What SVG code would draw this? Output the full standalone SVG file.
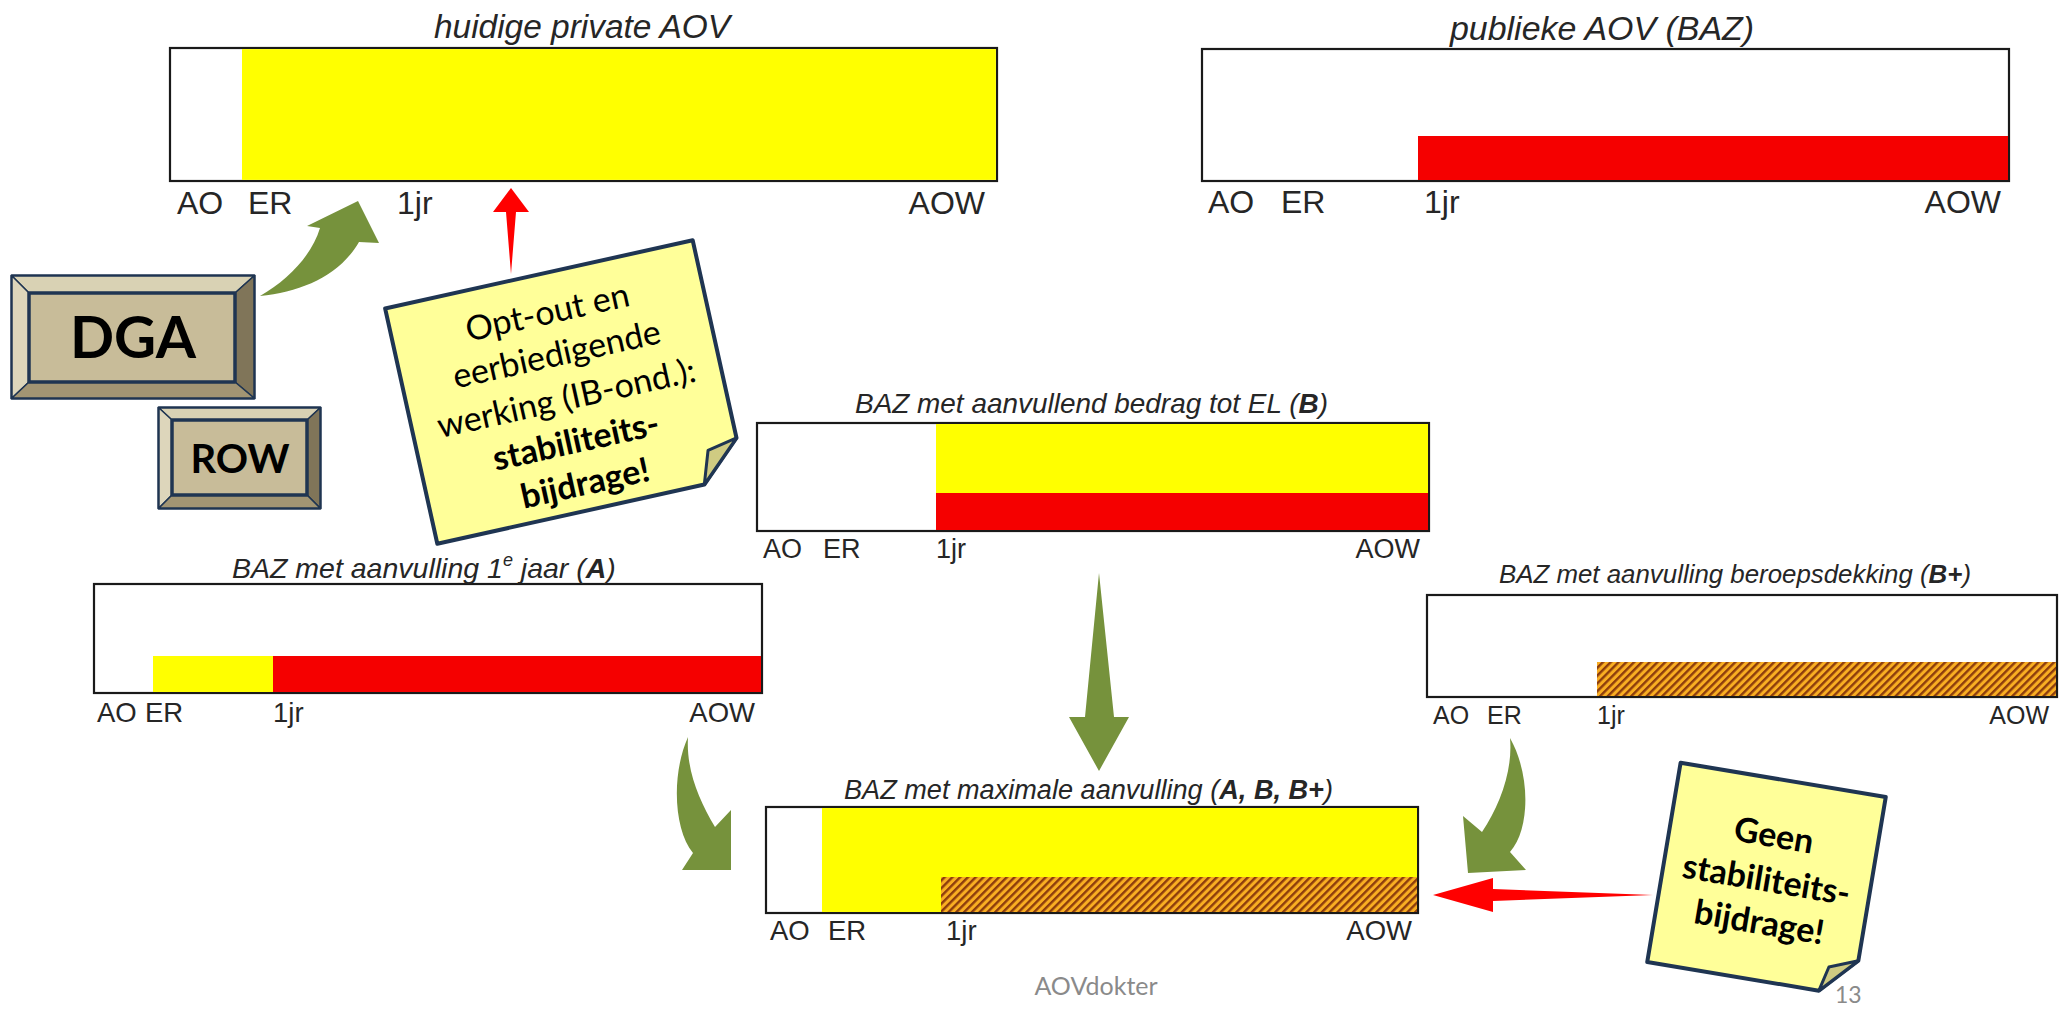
<svg xmlns="http://www.w3.org/2000/svg" width="2063" height="1009" viewBox="0 0 2063 1009">
<style>
.frame{fill:#fff;stroke:#1a1a1a;stroke-width:2.2}
.yel{fill:#ffff00}
.red{fill:#f50000}
.hatch{fill:url(#hatch)}
.ttl{font-family:"Liberation Sans",Arial,sans-serif;font-style:italic;fill:#262626}
.lbl{font-family:"Liberation Sans",Arial,sans-serif;fill:#262626}
.green{fill:#76923c}
.redarrow{fill:#ff0000}
.note{fill:#ffff99;stroke:#1f3552;stroke-width:4;stroke-linejoin:round}
.fold{fill:#cfcb82;stroke:#1f3552;stroke-width:3;stroke-linejoin:round}
.nt{font-family:Lato,"Open Sans",sans-serif;font-size:34px;fill:#000;text-anchor:middle}
.btn{stroke:#1f3552;stroke-width:3.5;stroke-linejoin:round}
.bev{stroke:#1f3552;stroke-width:1.5}
.btxt{font-family:Lato,"Open Sans",sans-serif;font-weight:bold;fill:#000;text-anchor:middle}
.foot{font-family:Lato,"Open Sans",sans-serif;fill:#8a8a8a}
</style>
<defs>
<pattern id="hatch" patternUnits="userSpaceOnUse" width="5.5" height="5.5" patternTransform="rotate(45)">
<rect width="5.5" height="5.5" fill="#f9ae22"/>
<rect x="0" y="0" width="2.4" height="5.5" fill="#8c3c0c"/>
</pattern>
</defs>

<g id="panel-huidige">
<rect class="frame" x="170" y="48" width="827" height="133"/>
<rect class="yel" x="242" y="49.1" width="753.9" height="130.8"/>
<text class="ttl" x="434" y="38" font-size="33" textLength="296" lengthAdjust="spacingAndGlyphs">huidige private AOV</text>
<text class="lbl" font-size="32" y="214"><tspan x="177">AO</tspan><tspan x="248">ER</tspan><tspan x="397">1jr</tspan></text>
<text class="lbl" font-size="32" x="985" y="214" text-anchor="end">AOW</text>
</g>

<g id="panel-publiek">
<rect class="frame" x="1202" y="49" width="807" height="132"/>
<rect class="red" x="1418" y="136" width="590" height="44"/>
<text class="ttl" x="1450" y="40" font-size="33" textLength="304" lengthAdjust="spacingAndGlyphs">publieke AOV (BAZ)</text>
<text class="lbl" font-size="32" y="213"><tspan x="1208">AO</tspan><tspan x="1281">ER</tspan><tspan x="1424">1jr</tspan></text>
<text class="lbl" font-size="32" x="2001" y="213" text-anchor="end">AOW</text>
</g>

<g id="panel-B">
<rect class="frame" x="757" y="423" width="672" height="108"/>
<rect class="yel" x="936" y="424" width="492" height="69"/>
<rect class="red" x="936" y="493" width="492" height="37"/>
<text class="ttl" x="855" y="413" font-size="28" textLength="473" lengthAdjust="spacingAndGlyphs">BAZ met aanvullend bedrag tot EL (<tspan font-weight="bold">B</tspan>)</text>
<text class="lbl" font-size="27" y="558"><tspan x="763">AO</tspan><tspan x="823">ER</tspan><tspan x="936">1jr</tspan></text>
<text class="lbl" font-size="27" x="1420" y="558" text-anchor="end">AOW</text>
</g>

<g id="panel-A">
<rect class="frame" x="94" y="584" width="668" height="109"/>
<rect class="yel" x="153" y="656" width="120" height="36"/>
<rect class="red" x="273" y="656" width="488" height="36"/>
<text class="ttl" x="232" y="578" font-size="28.5">BAZ met aanvulling 1<tspan font-size="18" dy="-12">e</tspan><tspan dy="12">  jaar (</tspan><tspan font-weight="bold">A</tspan>)</text>
<text class="lbl" font-size="27.5" y="722"><tspan x="97">AO</tspan><tspan x="145">ER</tspan><tspan x="273">1jr</tspan></text>
<text class="lbl" font-size="27.5" x="755" y="722" text-anchor="end">AOW</text>
</g>

<g id="panel-Bplus">
<rect class="frame" x="1427" y="595" width="630" height="102"/>
<rect class="hatch" x="1597" y="662" width="459" height="34"/>
<text class="ttl" x="1499" y="583" font-size="26" textLength="472" lengthAdjust="spacingAndGlyphs">BAZ met aanvulling beroepsdekking (<tspan font-weight="bold">B+</tspan>)</text>
<text class="lbl" font-size="25" y="724"><tspan x="1433">AO</tspan><tspan x="1487">ER</tspan><tspan x="1597">1jr</tspan></text>
<text class="lbl" font-size="25" x="2049" y="724" text-anchor="end">AOW</text>
</g>

<g id="panel-max">
<rect class="frame" x="766" y="807" width="652" height="106"/>
<rect class="yel" x="822" y="808" width="595" height="104"/>
<rect class="hatch" x="941" y="877" width="476" height="35"/>
<text class="ttl" x="844" y="799" font-size="27" textLength="489" lengthAdjust="spacingAndGlyphs">BAZ met maximale aanvulling (<tspan font-weight="bold">A, B, B+</tspan>)</text>
<text class="lbl" font-size="27.5" y="940"><tspan x="770">AO</tspan><tspan x="828">ER</tspan><tspan x="946">1jr</tspan></text>
<text class="lbl" font-size="27.5" x="1412" y="940" text-anchor="end">AOW</text>
</g>

<g id="btn-DGA">
<rect class="btn" x="12" y="276" width="242" height="122" fill="#c8bc99"/>
<polygon class="bev" points="12,276 254,276 235,293 29,293" fill="#d9d2b4"/>
<polygon class="bev" points="12,276 29,293 29,382 12,398" fill="#ddd6bb"/>
<polygon class="bev" points="254,276 254,398 235,382 235,293" fill="#807559"/>
<polygon class="bev" points="12,398 254,398 235,382 29,382" fill="#a29573"/>
<rect class="btn" x="29" y="293" width="206" height="89" fill="#c8bc99"/>
<text class="btxt" x="133" y="358" font-size="58">DGA</text>
</g>

<g id="btn-ROW">
<rect class="btn" x="159" y="408" width="161" height="100" fill="#c8bc99"/>
<polygon class="bev" points="159,408 320,408 307,420 172,420" fill="#d9d2b4"/>
<polygon class="bev" points="159,408 172,420 172,495 159,508" fill="#ddd6bb"/>
<polygon class="bev" points="320,408 320,508 307,495 307,420" fill="#807559"/>
<polygon class="bev" points="159,508 320,508 307,495 172,495" fill="#a29573"/>
<rect class="btn" x="172" y="420" width="135" height="75" fill="#c8bc99"/>
<text class="btxt" x="240" y="473" font-size="40">ROW</text>
</g>

<g id="note-optout" transform="translate(565,392) rotate(-12.5)">
<polygon class="note" points="-157.5,-120.5 157.5,-120.5 157.5,82 116,120.5 -157.5,120.5"/>
<polygon class="fold" points="157.5,82 116,120.5 127,88"/>
<text class="nt" x="0" y="-70">Opt-out en</text>
<text class="nt" x="0" y="-27">eerbiedigende</text>
<text class="nt" x="0" y="18">werking (IB-ond.):</text>
<text class="nt" x="0" y="62" font-weight="bold">stabiliteits-</text>
<text class="nt" x="0" y="105" font-weight="bold">bijdrage!</text>
</g>

<g id="note-geen" transform="translate(1766.5,879.5) rotate(9.5)">
<polygon class="note" points="-104,-101 104,-101 104,65 70,101 -104,101"/>
<polygon class="fold" points="104,65 70,101 76,76"/>
<text class="nt" x="0" y="-33" font-weight="bold">Geen</text>
<text class="nt" x="0" y="12" font-weight="bold">stabiliteits-</text>
<text class="nt" x="0" y="55" font-weight="bold">bijdrage!</text>
</g>

<g id="connectors">
<path class="green" d="M260,296 C288,280 312,255 320,228 L307,226 L358,201 L379,243 L359,242 C340,275 302,292 260,296 Z"/>
<path class="redarrow" d="M511,188 L529,212 L516,212 L511,274 L506,212 L493,212 Z"/>
<path class="green" d="M1099,573 L1114,717 L1129,717 L1099,771 L1069,717 L1085,717 Z"/>
<path class="green" d="M688,737 C671,775 674,830 693,853 L682,870 L731,870 L731,810 L715,827 C699,800 686,770 688,737 Z"/>
<path class="green" d="M1510,738 C1531,775 1530,830 1510,852 L1526,870 L1468,873 L1463,816 L1482,832 C1500,805 1513,770 1510,738 Z"/>
<path class="redarrow" d="M1433,895 L1493,878 L1493,889 L1653,895 L1493,901 L1493,912 Z"/>
</g>

<text class="foot" x="1096" y="995" font-size="25" text-anchor="middle">AOVdokter</text>
<text class="foot" x="1835" y="1003" font-size="23">13</text>
</svg>
